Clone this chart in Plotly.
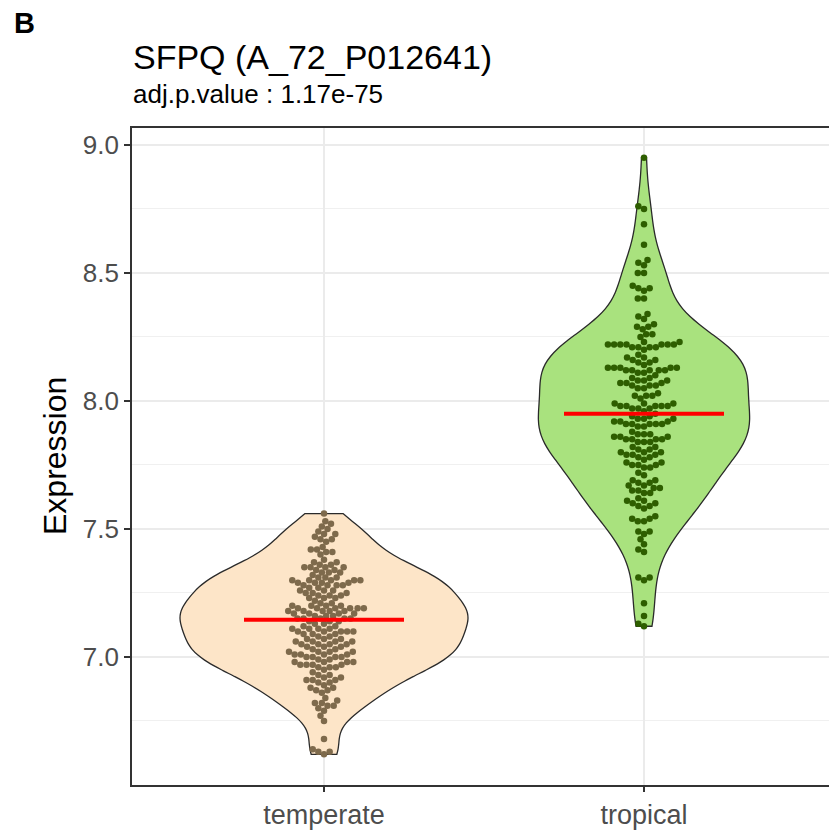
import numpy as np
import plotly.graph_objects as go

categories = ["temperate", "tropical"]

temperate_values = [
    7.56,
    7.53, 7.52, 7.51,
    7.50, 7.49, 7.48, 7.48, 7.47, 7.46, 7.46, 7.45,
    7.43, 7.42, 7.42, 7.41, 7.41, 7.40,
    7.38, 7.37, 7.37, 7.36, 7.36, 7.35, 7.35, 7.35, 7.35, 7.34, 7.34, 7.33, 7.33, 7.33,
    7.32, 7.31, 7.31, 7.31, 7.30, 7.30, 7.30, 7.30, 7.30, 7.29, 7.29, 7.29, 7.29, 7.28, 7.28, 7.28, 7.28, 7.27,
    7.27, 7.26, 7.26, 7.26, 7.25, 7.25, 7.25, 7.24, 7.24, 7.24, 7.23, 7.23, 7.23, 7.22,
    7.21, 7.21, 7.20, 7.20, 7.20, 7.20, 7.19, 7.19, 7.19, 7.19, 7.19, 7.19, 7.18, 7.18, 7.18, 7.18, 7.18,
    7.17, 7.17, 7.17, 7.17, 7.16, 7.16, 7.16,
    7.15, 7.15, 7.15, 7.15, 7.15, 7.14, 7.14, 7.14, 7.13, 7.13,
    7.12, 7.12, 7.11, 7.11, 7.11, 7.11, 7.10, 7.10, 7.10, 7.10, 7.10, 7.09, 7.09, 7.09,
    7.08, 7.08, 7.07, 7.07, 7.07, 7.06, 7.06, 7.06, 7.06, 7.05, 7.05, 7.05, 7.05, 7.04, 7.04, 7.04,
    7.03, 7.03, 7.02, 7.02, 7.02, 7.02, 7.01, 7.01, 7.01, 7.01, 7.00, 7.00, 7.00, 7.00,
    6.99, 6.99, 6.98, 6.98, 6.98, 6.98, 6.97, 6.97, 6.97, 6.97, 6.96, 6.96, 6.96, 6.95,
    6.94, 6.93, 6.93, 6.92, 6.92, 6.91, 6.91, 6.91, 6.90, 6.90,
    6.89, 6.88, 6.88, 6.87, 6.87, 6.86,
    6.84, 6.83, 6.82, 6.82, 6.81, 6.81, 6.80,
    6.79, 6.77, 6.75,
    6.68,
    6.64, 6.63, 6.63,
    6.62,
]

tropical_values = [
    8.95,
    8.76, 8.75,
    8.69,
    8.61,
    8.55, 8.54, 8.53,
    8.50, 8.50,
    8.45, 8.44, 8.44, 8.43,
    8.40, 8.40,
    8.34, 8.33, 8.32,
    8.30, 8.29, 8.29, 8.28,
    8.26, 8.26, 8.25,
    8.23, 8.23, 8.22, 8.22, 8.22, 8.22, 8.22, 8.22, 8.22, 8.21, 8.21, 8.21, 8.21, 8.20,
    8.18, 8.17, 8.17, 8.16, 8.16, 8.15, 8.15, 8.14,
    8.13, 8.13, 8.13, 8.13, 8.13, 8.12, 8.12, 8.12, 8.12, 8.12, 8.11, 8.11,
    8.10, 8.09, 8.09, 8.08, 8.08, 8.08, 8.07, 8.07, 8.07, 8.06, 8.06, 8.06, 8.05, 8.05,
    8.03, 8.02, 8.02, 8.02, 8.01,
    7.99, 7.99, 7.99, 7.98, 7.98, 7.98, 7.98, 7.98, 7.97, 7.97, 7.97, 7.96,
    7.95, 7.94, 7.94, 7.93, 7.93, 7.93, 7.92, 7.92, 7.92, 7.91, 7.91, 7.91, 7.91, 7.91, 7.90, 7.90,
    7.88, 7.87, 7.87, 7.87, 7.86, 7.86, 7.86, 7.85, 7.85, 7.85, 7.85, 7.84, 7.84, 7.84,
    7.82, 7.82, 7.81, 7.81, 7.80, 7.80, 7.80, 7.79, 7.79, 7.79, 7.78, 7.78,
    7.77, 7.76, 7.76, 7.75, 7.75, 7.75, 7.74, 7.74,
    7.72, 7.71,
    7.69, 7.69, 7.68, 7.68, 7.67, 7.67, 7.66, 7.66, 7.65, 7.65, 7.64, 7.64,
    7.62, 7.61, 7.61, 7.60, 7.60, 7.59, 7.59, 7.58,
    7.55, 7.54, 7.54, 7.53, 7.53,
    7.49, 7.49, 7.48,
    7.46, 7.44, 7.42, 7.41,
    7.31, 7.31, 7.30,
    7.21,
    7.16,
    7.13, 7.12,
]

center_lines = [7.145, 7.95]          # red horizontal summary lines
y_tick_values = [7.0, 7.5, 8.0, 8.5, 9.0]
y_tick_labels = ["7.0", "7.5", "8.0", "8.5", "9.0"]

# styling
fill_colors = ["#FDE5C8", "#A9E27E"]
point_colors = ["#7E6A4C", "#2E5E00"]
violin_widths = [0.90, 0.66]

# layout geometry
W, H = 829, 831
ML, MT, MB = 132, 128, 46
plot_w = W - ML
plot_h = H - MT - MB
x_range = [-0.6, -0.6 + plot_w / 320.0]
y_range = [6.5, 9.066]
ppx = plot_w / (x_range[1] - x_range[0])
ppy = plot_h / (y_range[1] - y_range[0])


def nrd0(v):
    v = np.asarray(v)
    sd = v.std(ddof=1)
    iqr = np.subtract(*np.percentile(v, [75, 25]))
    lo = min(sd, iqr / 1.34)
    return 0.9 * lo * len(v) ** (-0.2)


def swarm_offsets(values, d):
    """Beeswarm layout in pixel space; returns x offsets in data units."""
    vals = np.asarray(values, dtype=float)
    order = np.argsort(vals, kind="stable")
    placed = []
    out = np.zeros(len(vals))
    for i in order:
        y = vals[i] * ppy
        neigh = [(px, py) for px, py in placed if abs(py - y) < d]
        cands = [0.0]
        for px, py in neigh:
            dx = np.sqrt(max(d * d - (py - y) ** 2, 0.0))
            cands += [px + dx + 1e-6, px - dx - 1e-6]
        cands.sort(key=lambda c: (abs(c), c))
        chosen = 0.0
        for c in cands:
            if all((c - px) ** 2 + (y - py) ** 2 >= d * d - 1e-6 for px, py in neigh):
                chosen = c
                break
        placed.append((chosen, y))
        out[i] = chosen / ppx
    return out


fig = go.Figure()
groups = [temperate_values, tropical_values]
for k, vals in enumerate(groups):
    fig.add_trace(go.Violin(
        x=[k] * len(vals), y=vals, name=categories[k],
        width=violin_widths[k], scalemode="width", spanmode="hard",
        bandwidth=nrd0(vals),
        fillcolor=fill_colors[k], opacity=1,
        line=dict(color="#2A2A2A", width=1.3),
        points=False, box_visible=False, meanline_visible=False,
        showlegend=False, hoverinfo="skip",
    ))

for k, vals in enumerate(groups):
    offs = swarm_offsets(vals, 6.2)
    fig.add_trace(go.Scatter(
        x=k + offs, y=vals, mode="markers",
        marker=dict(size=6.5, color=point_colors[k], line=dict(width=0)),
        showlegend=False, hoverinfo="skip",
    ))

for k, c in enumerate(center_lines):
    fig.add_trace(go.Scatter(
        x=[k - 0.25, k + 0.25], y=[c, c], mode="lines",
        line=dict(color="#FF0000", width=4),
        showlegend=False, hoverinfo="skip",
    ))

font_family = "Liberation Sans, Arial, sans-serif"

fig.update_layout(
    width=W, height=H,
    margin=dict(l=ML, r=0, t=MT, b=MB),
    paper_bgcolor="white", plot_bgcolor="white",
    font=dict(family=font_family),
    xaxis=dict(
        range=x_range, tickmode="array", tickvals=[0, 1], ticktext=categories,
        showgrid=True, gridcolor="#EBEBEB", gridwidth=1.6,
        showline=True, linecolor="#333333", linewidth=1.8, mirror=True,
        ticks="outside", ticklen=5, tickwidth=1.8, tickcolor="#333333",
        tickfont=dict(size=27, color="#4D4D4D"),
        zeroline=False, fixedrange=True,
    ),
    yaxis=dict(
        range=y_range, tickmode="array", tickvals=y_tick_values, ticktext=y_tick_labels,
        showgrid=True, gridcolor="#EBEBEB", gridwidth=1.6,
        minor=dict(tickmode="array", tickvals=[6.75, 7.25, 7.75, 8.25, 8.75],
                   showgrid=True, gridcolor="#F0F0F0", gridwidth=1.1, ticks=""),
        showline=True, linecolor="#333333", linewidth=1.8,
        ticks="outside", ticklen=6, tickwidth=1.8, tickcolor="#333333",
        tickfont=dict(size=26, color="#4D4D4D"),
        zeroline=False, fixedrange=True,
    ),
)


def px_to_paper_x(x):
    return (x - ML) / plot_w


def px_to_paper_y(y):
    return (H - MB - y) / plot_h


fig.add_annotation(text="<b>B</b>", xref="paper", yref="paper",
                   x=px_to_paper_x(12), y=px_to_paper_y(23), xanchor="left", yanchor="middle",
                   showarrow=False, font=dict(size=29, color="black", family=font_family))
fig.add_annotation(text="SFPQ (A_72_P012641)", xref="paper", yref="paper",
                   x=px_to_paper_x(131), y=px_to_paper_y(57), xanchor="left", yanchor="middle",
                   showarrow=False, font=dict(size=34, color="black", family=font_family))
fig.add_annotation(text="adj.p.value : 1.17e-75", xref="paper", yref="paper",
                   x=px_to_paper_x(131), y=px_to_paper_y(94), xanchor="left", yanchor="middle",
                   showarrow=False, font=dict(size=26, color="black", family=font_family))
fig.add_annotation(text="Expression", xref="paper", yref="paper",
                   x=px_to_paper_x(55), y=px_to_paper_y(456), xanchor="center", yanchor="middle",
                   textangle=-90, showarrow=False,
                   font=dict(size=32, color="black", family=font_family))

fig.write_html("out.html")
